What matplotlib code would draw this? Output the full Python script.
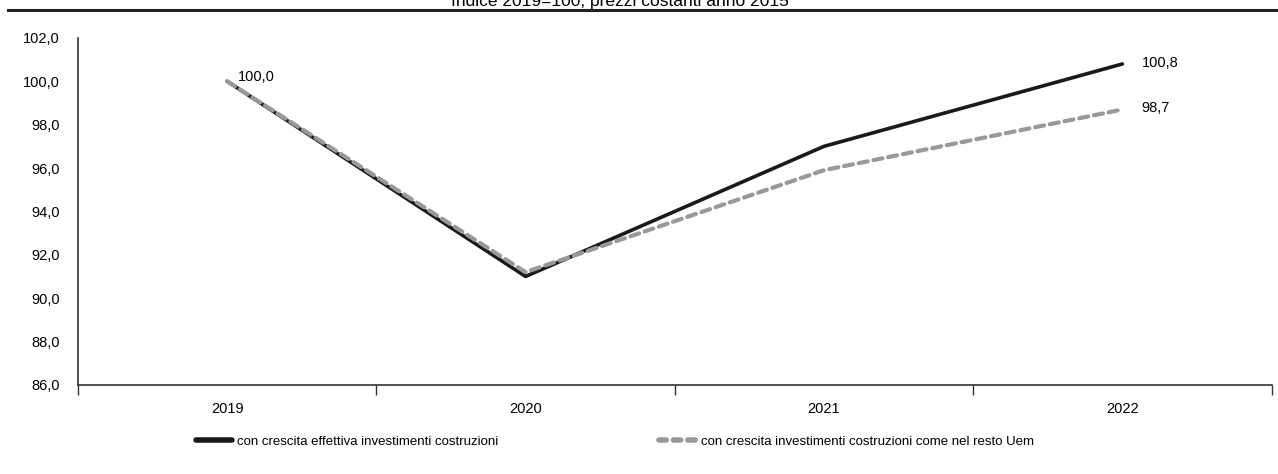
import matplotlib.pyplot as plt
from matplotlib.lines import Line2D

plt.rcParams['font.family'] = ['Liberation Sans', 'DejaVu Sans']

# Dati
anni = ['2019', '2020', '2021', '2022']
effettiva = [100.0, 91.0, 97.0, 100.8]
resto_uem = [100.0, 91.2, 95.9, 98.7]

fig = plt.figure(figsize=(12.78, 4.74), dpi=100)
ax = fig.add_axes([0.061, 0.188, 0.934, 0.732])

x = range(len(anni))
ax.plot(x, effettiva, color='#1a1a1a', lw=2.6, solid_capstyle='round',
        label='con crescita effettiva investimenti costruzioni')
ax.plot(x, resto_uem, color='#999999', lw=3, ls=(0, (2.2, 1.4)), dash_capstyle='round',
        label='con crescita investimenti costruzioni come nel resto Uem')

def fmt(v):
    return f'{v:.1f}'.replace('.', ',')

ax.annotate(fmt(effettiva[0]), (0, effettiva[0]), xytext=(8, 3),
            textcoords='offset points', fontsize=10.5, va='center')
ax.annotate(fmt(effettiva[-1]), (3, effettiva[-1]), xytext=(14, 1),
            textcoords='offset points', fontsize=10.5, va='center')
ax.annotate(fmt(resto_uem[-1]), (3, resto_uem[-1]), xytext=(14, 1),
            textcoords='offset points', fontsize=10.5, va='center')

ax.set_xlim(-0.5, 3.5)
ax.set_ylim(86, 102)
ax.set_yticks(range(86, 103, 2))
ax.set_yticklabels([f'{v},0' for v in range(86, 103, 2)], fontsize=10.5)
ax.tick_params(axis='y', length=0, pad=13)

ax.set_xticks([-0.5, 0.5, 1.5, 2.5, 3.5])
ax.set_xticklabels([])
ax.set_xticks(list(x), minor=True)
ax.set_xticklabels(anni, minor=True, fontsize=10.5)
ax.tick_params(axis='x', which='major', length=7, width=1, color='#333333')
ax.tick_params(axis='x', which='minor', length=0, pad=12)

for s in ['top', 'right']:
    ax.spines[s].set_visible(False)
for s in ['left', 'bottom']:
    ax.spines[s].set_color('#333333')
    ax.spines[s].set_linewidth(1.2)

handles = [
    Line2D([], [], color='#1a1a1a', lw=4, solid_capstyle='round'),
    Line2D([], [], color='#999999', lw=4, ls=(0, (1.3, 1.3)), dash_capstyle='round'),
]
fig.legend(handles, ['con crescita effettiva investimenti costruzioni',
                     'con crescita investimenti costruzioni come nel resto Uem'],
           loc='center', bbox_to_anchor=(0.481, 0.068), ncol=2, frameon=False,
           fontsize=9.5, handlelength=2.8, handletextpad=0.35, columnspacing=12.2)

# titolo e riga superiore
fig.text(0.485, 0.996, 'Indice 2019=100, prezzi costanti anno 2015', ha='center',
         va='center', fontsize=12.5)
fig.add_artist(Line2D([0.006, 1.0], [0.978, 0.978], transform=fig.transFigure,
                      color='#222222', lw=2.2))

fig.savefig('out.png', dpi=100)
